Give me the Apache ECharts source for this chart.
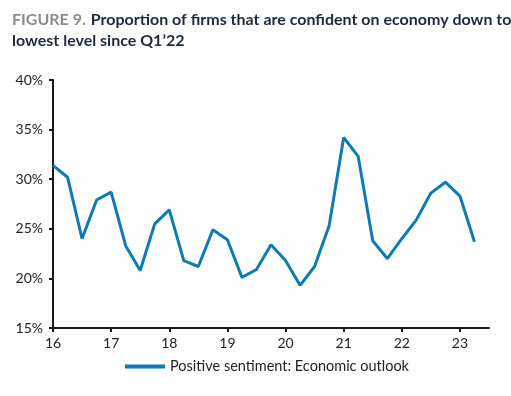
<!DOCTYPE html>
<html>
<head>
<meta charset="utf-8">
<script src="https://cdn.jsdelivr.net/npm/echarts@6/dist/echarts.min.js"></script>
<style>
  html, body { margin: 0; padding: 0; background: #fff; }
  #chart { width: 511px; height: 396px; }
</style>
</head>
<body>
<div id="chart"></div>
<script>
  // quarters 16Q1 .. 23Q3 (last one is empty, axis runs on to it)
  var quarters = []
  for (var y = 16; y <= 23; y++) {
    for (var q = 1; q <= 4; q++) {
      if (y === 23 && q > 3) break
      quarters.push(y + 'Q' + q)
    }
  }
  var seriesName = 'Positive sentiment: Economic outlook'
  var positiveSentiment = [
    31.4, 30.2, 24.0, 27.9, 28.7, 23.3, 20.8, 25.5, 26.9, 21.8,
    21.2, 24.9, 23.9, 20.1, 20.9, 23.4, 21.8, 19.3, 21.2, 25.3,
    34.2, 32.3, 23.8, 22.0, 24.0, 25.9, 28.6, 29.7, 28.3, 23.7,
    null
  ]

  var chart = echarts.init(document.getElementById('chart'))
  var option = {
    animation: false,
    title: {
      left: 7,
      top: 4,
      text: '{g|FIGURE 9.} {b|Proportion of firms that are confident on economy down to}\n{b|lowest level since Q1\u201922}',
      textStyle: {
        rich: {
          g: { color: '#8c8c8c', fontSize: 16, fontWeight: 'bold', fontFamily: 'Lato', lineHeight: 21 },
          b: { color: '#1e2a3a', fontSize: 16, fontWeight: 'bold', fontFamily: 'Lato', lineHeight: 21 }
        }
      }
    },
    grid: { left: 53, right: 22, top: 80, bottom: 68 },
    legend: {
      bottom: 17,
      left: 120,
      icon: 'rect',
      itemWidth: 40,
      itemHeight: 4,
      itemGap: 4,
      textStyle: { color: '#222', fontSize: 14.5, fontFamily: 'Lato' },
      data: [seriesName]
    },
    xAxis: {
      type: 'category',
      boundaryGap: false,
      data: quarters,
      axisLine: { lineStyle: { color: '#1a1a1a', width: 2 } },
      axisTick: { interval: 3, length: 4, lineStyle: { color: '#1a1a1a', width: 2 } },
      axisLabel: {
        interval: 3,
        margin: 8,
        color: '#222',
        fontSize: 14,
        fontFamily: 'Lato',
        formatter: function (v) { return v.slice(0, 2) }
      },
      splitLine: { show: false }
    },
    yAxis: {
      type: 'value',
      min: 15,
      max: 40,
      interval: 5,
      axisLine: { show: true, lineStyle: { color: '#1a1a1a', width: 2 } },
      axisTick: { show: true, length: 4, lineStyle: { color: '#1a1a1a', width: 2 } },
      axisLabel: {
        margin: 10,
        color: '#222',
        fontSize: 14,
        fontFamily: 'Lato',
        formatter: '{value}%'
      },
      splitLine: { show: false }
    },
    series: [{
      name: seriesName,
      type: 'line',
      data: positiveSentiment,
      showSymbol: false,
      symbol: 'none',
      color: '#0e7bb3',
      lineStyle: { width: 3, color: '#0e7bb3' }
    }]
  }
  chart.setOption(option)
</script>
</body>
</html>
